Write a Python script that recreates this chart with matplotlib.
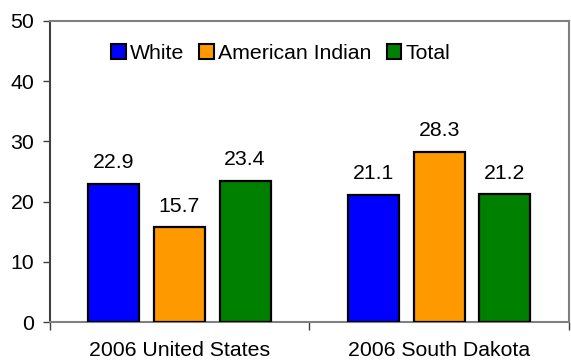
import matplotlib
matplotlib.use("Agg")
import matplotlib.pyplot as plt
from matplotlib.patches import Patch
import numpy as np

plt.rcParams['font.family'] = ['Liberation Sans', 'DejaVu Sans']

categories = ["2006 United States", "2006 South Dakota"]
series_names = ["White", "American Indian", "Total"]
white = [22.9, 21.1]
american_indian = [15.7, 28.3]
total = [23.4, 21.2]
colors = ["#0000FF", "#FF9900", "#008000"]
y_ticks = [0, 10, 20, 30, 40, 50]

FS = 15.3

fig = plt.figure(figsize=(5.71, 3.60), dpi=100)
ax = fig.add_axes([49.5 / 571, 38 / 360, 519.5 / 571, 301 / 360])

x = np.arange(len(categories))
width = 0.196
step = 0.253
series = [white, american_indian, total]
for i, (vals, name, col) in enumerate(zip(series, series_names, colors)):
    pos = x + (i - 1) * step
    bars = ax.bar(pos, vals, width, color=col, edgecolor="black", linewidth=1.6, zorder=3)
    for b, v in zip(bars, vals):
        ax.annotate(f"{v:.1f}", (b.get_x() + b.get_width() / 2, v),
                    xytext=(0, 8.5), textcoords="offset points",
                    ha="center", va="bottom", fontsize=FS, color="black")

ax.set_xlim(-0.5, 1.5)
ax.set_ylim(0, 50)
ax.set_yticks(y_ticks)
ax.tick_params(axis="y", labelsize=FS, length=5, width=1, color="#404040", pad=6)
ax.set_xticks(x)
ax.set_xticklabels(categories, fontsize=FS)
ax.tick_params(axis="x", which="major", length=0, pad=14)
ax.set_xticks([-0.5, 0.5, 1.5], minor=True)
ax.tick_params(axis="x", which="minor", length=6, width=1, color="#404040")

for side in ["top", "right", "bottom"]:
    ax.spines[side].set_color("#808080")
    ax.spines[side].set_linewidth(1.5)
ax.spines["left"].set_color("#404040")
ax.spines["left"].set_linewidth(1.5)

handles = [Patch(facecolor=c, edgecolor="black", linewidth=1.5) for c in colors]
ax.legend(handles, series_names, loc="upper center", bbox_to_anchor=(0.445, 0.965),
          ncol=3, frameon=False, fontsize=FS, handlelength=0.7, handleheight=0.7,
          handletextpad=0.2, columnspacing=0.7, borderaxespad=0.2)

fig.savefig("out.png", dpi=100)
